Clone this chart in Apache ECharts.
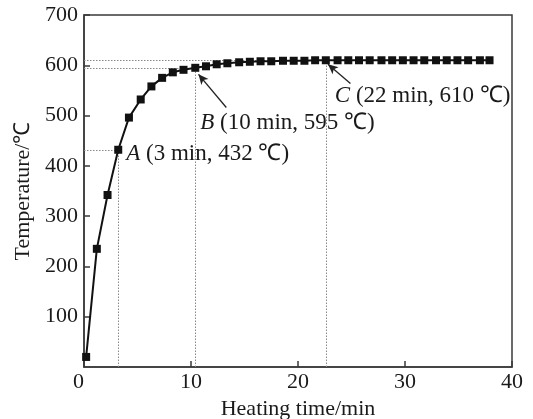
<!DOCTYPE html>
<html>
<head>
<meta charset="utf-8">
<script src="https://cdn.jsdelivr.net/npm/echarts@6/dist/echarts.min.js"></script>
<style>
  html, body { margin: 0; padding: 0; background: #fff; }
  #chart { width: 533px; height: 419px; }
</style>
</head>
<body>
<div id="chart"></div>
<script>
// Heating time (min)
const timeMin = [0.2, 1.2, 2.2, 3.2, 4.2, 5.3, 6.3, 7.3, 8.3, 9.3,
                 10.4, 11.4, 12.4, 13.4, 14.5, 15.5, 16.5, 17.5, 18.6, 19.6,
                 20.6, 21.6, 22.6, 23.7, 24.7, 25.7, 26.7, 27.8, 28.8, 29.8,
                 30.8, 31.8, 32.9, 33.9, 34.9, 35.9, 37.0, 37.9];
// Temperature (°C)
const tempC = [20, 235, 342, 432, 496, 532, 558, 575, 586, 591,
               595, 598, 602, 604, 606, 607, 608, 608, 609, 609,
               609, 610, 610, 610, 610, 610, 610, 610, 610, 610,
               610, 610, 610, 610, 610, 610, 610, 610];
// Annotated points (index into the series) and their labels
const pointIdx = [3, 10, 22];
const pointLetters = ['A', 'B', 'C'];
const pointTexts = [' (3 min, 432 ℃)', ' (10 min, 595 ℃)', ' (22 min, 610 ℃)'];
const xTicks = [0, 10, 20, 30, 40];
const yTicks = [0, 100, 200, 300, 400, 500, 600, 700];

const FONT = '"Liberation Serif", "Times New Roman", serif';
const TXT = '#1a1a1a';

const labelPos = [
  { position: 'right', distance: 4, offset: [0, 4] },
  { position: [9, 59], align: 'left', verticalAlign: 'middle' },
  { position: [13, 40], align: 'left', verticalAlign: 'middle' }
];

const seriesData = timeMin.map((t, i) => {
  const k = pointIdx.indexOf(i);
  const item = { value: [t, tempC[i]] };
  if (k >= 0) {
    item.label = Object.assign({
      show: true,
      formatter: '{i|' + pointLetters[k] + '}' + pointTexts[k],
      fontFamily: FONT, fontSize: 23, color: TXT,
      rich: { i: { fontStyle: 'italic', fontFamily: FONT, fontSize: 23, color: TXT } }
    }, labelPos[k]);
  }
  return item;
});

// dotted guide lines from each annotated point to the axes
const guides = [];
pointIdx.forEach(i => {
  guides.push([{ coord: [timeMin[i], 0] }, { coord: [timeMin[i], tempC[i]] }]);
  guides.push([{ coord: [0, tempC[i]] }, { coord: [timeMin[i], tempC[i]] }]);
});

// arrows for B and C (from label towards point)
const arrows = [
  [{ coord: [timeMin[10] + 2.9, tempC[10] - 79] }, { coord: [timeMin[10] + 0.3, tempC[10] - 13] }],
  [{ coord: [timeMin[22] + 2.3, tempC[22] - 46] }, { coord: [timeMin[22] + 0.2, tempC[22] - 8] }]
];

const chart = echarts.init(document.getElementById('chart'), null, { renderer: 'canvas' });
chart.setOption({
  animation: false,
  backgroundColor: '#fff',
  grid: { left: 84, right: 21, top: 15, bottom: 52, show: true, borderColor: '#3a3a3a', borderWidth: 1.5,
          containLabel: false, outerBoundsMode: 'none' },
  xAxis: {
    type: 'value', min: xTicks[0], max: xTicks[xTicks.length - 1], interval: 10,
    name: 'Heating time/min', nameLocation: 'middle', nameGap: 29,
    nameTextStyle: { fontFamily: FONT, fontSize: 22, color: TXT },
    axisLine: { show: true, lineStyle: { color: '#3a3a3a', width: 1.5 } },
    axisTick: { show: true, inside: true, length: 6, lineStyle: { color: '#3a3a3a', width: 1.5 } },
    axisLabel: { fontFamily: FONT, fontSize: 22, color: TXT, margin: 4, alignMinLabel: 'right' },
    splitLine: { show: false }
  },
  yAxis: {
    type: 'value', min: yTicks[0], max: yTicks[yTicks.length - 1], interval: 100,
    name: 'Temperature/℃', nameLocation: 'middle', nameGap: 49,
    nameTextStyle: { fontFamily: FONT, fontSize: 22, color: TXT },
    axisLine: { show: true, lineStyle: { color: '#3a3a3a', width: 1.5 } },
    axisTick: { show: true, inside: true, length: 6, lineStyle: { color: '#3a3a3a', width: 1.5 } },
    axisLabel: { fontFamily: FONT, fontSize: 22, color: TXT, margin: 6, showMinLabel: false },
    splitLine: { show: false }
  },
  series: [{
    type: 'line',
    data: seriesData,
    symbol: 'rect', symbolSize: 8,
    itemStyle: { color: '#111' },
    lineStyle: { color: '#111', width: 2 },
    z: 5,
    markLine: {
      silent: true, symbol: ['none', 'none'], animation: false,
      label: { show: false },
      lineStyle: { color: '#888', type: [1.5, 1.5], width: 1 },
      data: guides.concat(arrows.map(a => [
        Object.assign({}, a[0], { symbol: 'none', lineStyle: { color: '#222', type: 'solid', width: 1.3 } }),
        Object.assign({}, a[1], { symbol: 'arrow', symbolSize: [7, 10] })
      ]))
    }
  }]
});
</script>
</body>
</html>
